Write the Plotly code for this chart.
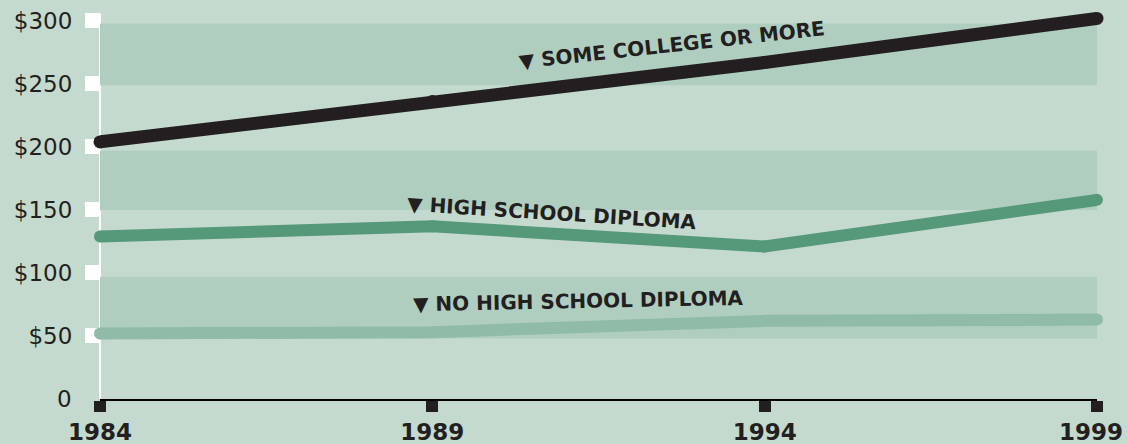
import plotly.graph_objects as go

years = [1984, 1989, 1994, 1999]
some_college = [204, 236, 267, 302]
high_school = [129, 137, 121, 158]
no_high_school = [52, 53, 62, 63]

y_tickvals = [50, 100, 150, 200, 250, 300]
y_ticktext = ["$50", "$100", "$150", "$200", "$250", "$300"]
x_ticktext = ["1984", "1989", "1994", "1999"]
bands = [(48, 97), (150, 197), (249, 298)]

BG = "#c4dace"
BAND = "#b0cec0"
INK = "#231f20"

fig = go.Figure()

series = [
    (no_high_school, "#8fbba7", 12),
    (high_school, "#55987a", 12),
    (some_college, INK, 13),
]
for vals, color, w in series:
    fig.add_trace(go.Scatter(
        x=years, y=vals, mode="lines+markers",
        line=dict(color=color, width=w),
        marker=dict(color=color, size=w, line=dict(width=0)),
        cliponaxis=False, hoverinfo="skip", showlegend=False,
    ))

for y0, y1 in bands:
    fig.add_shape(type="rect", xref="x", yref="y", x0=years[0], x1=years[-1],
                  y0=y0, y1=y1, fillcolor=BAND, line=dict(width=0), layer="below")

# white vertical axis line
fig.add_shape(type="line", xref="paper", yref="y", x0=0, x1=0, y0=0, y1=306,
              line=dict(color="white", width=2), layer="below")

labels = [
    ("\u25BC SOME COLLEGE OR MORE", 1992.6, 281, -6.3),
    ("\u25BC HIGH SCHOOL DIPLOMA", 1990.8, 147.5, 3.7),
    ("\u25BC NO HIGH SCHOOL DIPLOMA", 1991.2, 78, -1.1),
]
for text, xv, yv, ang in labels:
    fig.add_annotation(
        x=xv, y=yv, xref="x", yref="y", text=text, showarrow=False,
        textangle=ang, font=dict(family="DejaVu Sans", size=20, color=INK, weight="bold"),
        xanchor="center", yanchor="middle",
    )

fig.add_annotation(x=0, y=0, xref="paper", yref="y", text="0", showarrow=False,
                   xanchor="right", yanchor="middle", xshift=-26,
                   font=dict(family="DejaVu Sans", size=23, color=INK))

# last year label nudged left so it stays inside the page
fig.add_annotation(x=years[-1], y=0, xref="x", yref="paper", text=x_ticktext[-1],
                   showarrow=False, xanchor="center", yanchor="middle",
                   xshift=-6, yshift=-33,
                   font=dict(family="DejaVu Sans", size=23, color=INK, weight="bold"))

fig.update_layout(
    width=1127, height=444,
    margin=dict(l=100, r=30, t=2, b=45),
    paper_bgcolor=BG, plot_bgcolor=BG,
    xaxis=dict(
        range=[years[0], years[-1]], tickvals=years,
        ticktext=x_ticktext[:-1] + [""],
        showgrid=False, zeroline=False, automargin=False,
        showline=True, linecolor="black", linewidth=2,
        ticks="outside", ticklen=11, tickwidth=12, tickcolor=INK,
        ticklabeloverflow="allow",
        tickfont=dict(family="DejaVu Sans", size=23, color=INK, weight="bold"),
    ),
    yaxis=dict(
        range=[0, 315], tickvals=y_tickvals, ticktext=y_ticktext,
        showgrid=False, zeroline=False, automargin=False,
        showline=False, layer="below traces",
        ticks="outside", ticklen=14, tickwidth=15, tickcolor="white",
        ticklabelstandoff=8,
        tickfont=dict(family="DejaVu Sans", size=23, color=INK),
    ),
)

fig.write_html(
    "out.html",
    config={"displayModeBar": False},
    post_script="document.body.style.margin='0';document.body.style.overflow='hidden';",
)
